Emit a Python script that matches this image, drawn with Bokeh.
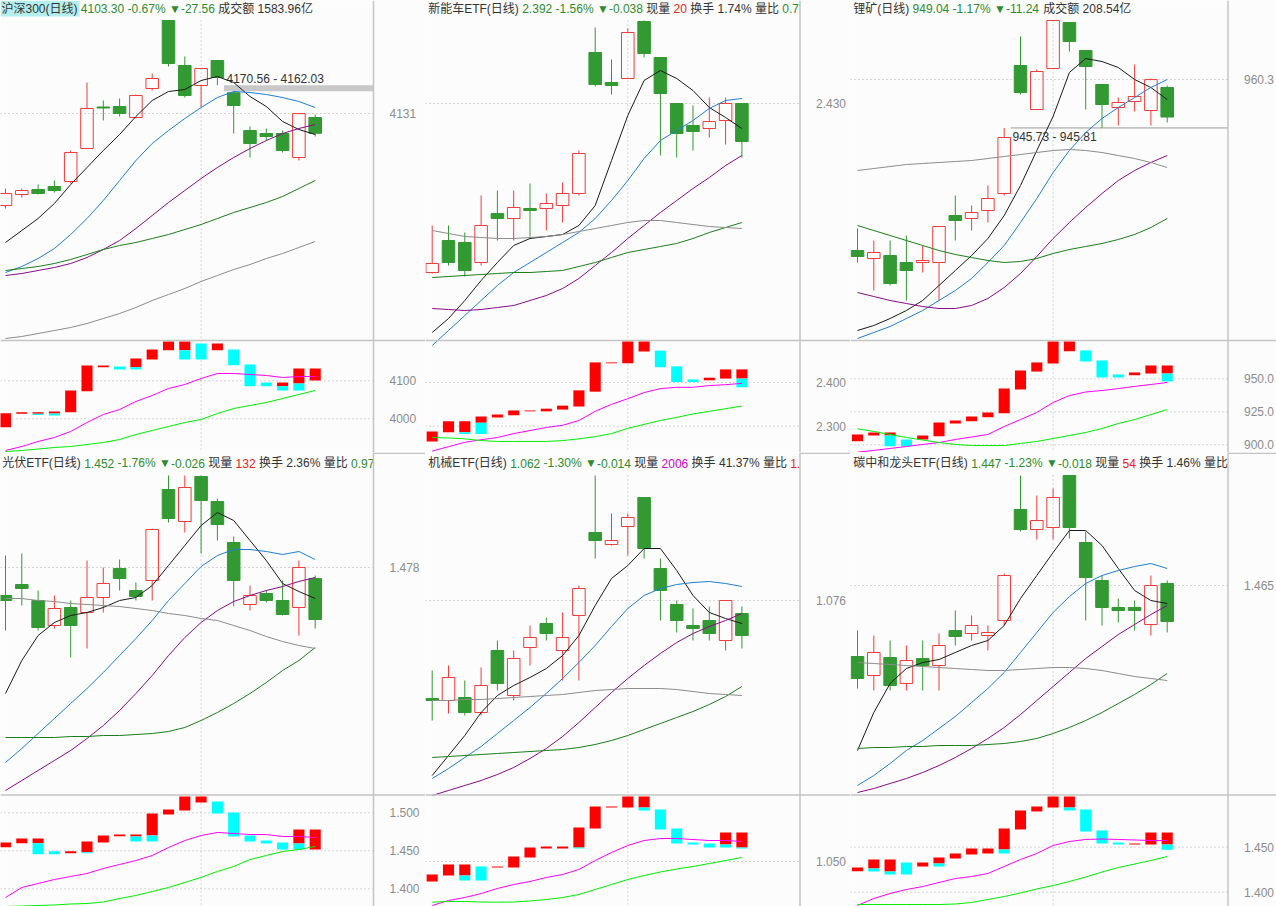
from bokeh.plotting import figure
from bokeh.models import Range1d
from bokeh.layouts import gridplot
from bokeh.embed import file_html
from bokeh.resources import INLINE
from bokeh.core.properties import value

# ---------------- data ----------------
# 沪深300
hs300_open = [4002.2, 4017.6, 4024.6, 4028.8, 4035.8, 4082.0, 4140.1, 4140.8, 4125.4, 4166.0, 4261.2, 4198.2, 4170.2, 4205.2, 4160.0, 4107.2, 4103.0, 4103.0, 4069.4, 4125.4]
hs300_high = [4026.0, 4026.0, 4031.6, 4037.2, 4079.2, 4174.4, 4149.2, 4152.0, 4157.6, 4187.0, 4261.2, 4210.8, 4194.0, 4205.2, 4162.03, 4112.8, 4110.0, 4107.2, 4131.5, 4129.6]
hs300_low = [3998.0, 4013.4, 4017.6, 4020.4, 4033.0, 4082.0, 4121.2, 4126.8, 4124.0, 4163.2, 4196.8, 4153.4, 4139.4, 4170.56, 4103.0, 4069.4, 4093.2, 4076.4, 4065.2, 4098.8]
hs300_close = [4019.0, 4023.2, 4019.0, 4023.2, 4076.4, 4138.0, 4138.7, 4131.0, 4156.2, 4180.0, 4201.0, 4156.2, 4194.0, 4181.4, 4142.2, 4089.0, 4098.8, 4079.2, 4130.86, 4103.30]
hs300_ma5 = [3950.4, 3967.2, 3984.0, 4005.0, 4031.6, 4055.4, 4079.2, 4101.6, 4126.8, 4149.2, 4161.8, 4164.6, 4177.2, 4182.8, 4174.4, 4154.8, 4140.8, 4119.8, 4108.6, 4101.6]
hs300_ma10 = [3908.4, 3916.8, 3928.0, 3942.0, 3961.6, 3984.0, 4009.2, 4037.2, 4065.2, 4089.0, 4107.2, 4124.0, 4139.4, 4153.4, 4161.8, 4160.4, 4157.6, 4153.4, 4147.8, 4139.4]
hs300_ma20 = [3904.2, 3907.0, 3911.2, 3915.4, 3921.0, 3929.4, 3940.6, 3953.2, 3970.0, 3988.2, 4006.4, 4023.2, 4040.0, 4055.4, 4069.4, 4082.0, 4093.2, 4103.0, 4110.0, 4115.6]
hs300_ma30 = [3911.2, 3914.0, 3916.8, 3921.0, 3926.6, 3933.6, 3940.6, 3946.2, 3950.4, 3956.0, 3961.6, 3968.6, 3975.6, 3984.0, 3992.4, 3999.4, 4006.4, 4014.8, 4026.0, 4037.2]
hs300_ma60 = [3816.0, 3818.8, 3823.0, 3827.2, 3831.4, 3837.0, 3844.0, 3851.0, 3859.4, 3869.2, 3877.6, 3886.0, 3895.8, 3904.2, 3912.6, 3919.6, 3928.0, 3935.0, 3943.4, 3951.8]
hs300_red_top = [4014.8, 4017.4, 4017.4, 4019.3, 4074.5, 4140.2, 4140.2, None, 4158.6, 4182.3, 4203.4, 4203.4, None, 4198.1, None, None, None, 4095.5, 4132.3, 4132.3]
hs300_red_bot = [3978.0, 4013.2, 4013.2, 4014.0, 4017.4, 4072.6, 4135.8, None, 4135.8, 4156.0, 4180.5, 4180.5, None, 4180.5, None, None, None, 4085.8, 4092.9, 4100.8]
hs300_cyan_top = [None, None, 4013.2, 4014.0, None, None, None, 4137.6, 4135.8, None, None, 4180.5, 4198.1, None, 4182.3, 4142.9, 4095.5, 4085.8, 4092.9, None]
hs300_cyan_bot = [None, None, 4010.0, 4008.7, None, None, None, 4129.7, 4129.7, None, None, 4156.0, 4156.0, None, 4141.0, 4085.8, 4085.8, 4074.5, 4074.5, None]
hs300_ind_m = [3916.7, 3927.2, 3940.4, 3950.9, 3966.7, 3990.3, 4011.4, 4024.5, 4045.6, 4061.3, 4079.7, 4090.3, 4106.0, 4119.2, 4119.2, 4116.6, 4113.9, 4108.7, 4111.3, 4111.3]
hs300_ind_g = [3914.1, 3916.7, 3920.6, 3924.6, 3927.2, 3932.5, 3937.7, 3945.6, 3958.8, 3969.3, 3979.8, 3990.3, 3998.2, 4014.0, 4027.1, 4035.0, 4042.9, 4053.4, 4064.0, 4074.5]

# 新能车ETF
xnc_open = [2.261, 2.293, 2.291, 2.271, 2.320, 2.315, 2.325, 2.325, 2.328, 2.340, 2.481, 2.451, 2.455, 2.512, 2.476, 2.430, 2.408, 2.405, 2.413, 2.430]
xnc_high = [2.308, 2.308, 2.301, 2.338, 2.343, 2.343, 2.350, 2.340, 2.351, 2.383, 2.506, 2.474, 2.505, 2.513, 2.476, 2.430, 2.428, 2.436, 2.436, 2.430]
xnc_low = [2.260, 2.268, 2.257, 2.268, 2.293, 2.293, 2.297, 2.303, 2.311, 2.338, 2.447, 2.439, 2.455, 2.476, 2.378, 2.376, 2.383, 2.396, 2.389, 2.376]
xnc_close = [2.270, 2.271, 2.263, 2.308, 2.315, 2.326, 2.323, 2.330, 2.340, 2.380, 2.449, 2.448, 2.501, 2.480, 2.440, 2.400, 2.402, 2.412, 2.430, 2.392]
xnc_ma5 = [2.201, 2.215, 2.233, 2.253, 2.271, 2.288, 2.295, 2.297, 2.299, 2.308, 2.328, 2.373, 2.418, 2.453, 2.463, 2.455, 2.443, 2.426, 2.416, 2.405]
xnc_ma10 = [2.188, 2.203, 2.218, 2.233, 2.248, 2.261, 2.271, 2.281, 2.291, 2.301, 2.315, 2.333, 2.353, 2.375, 2.393, 2.403, 2.413, 2.425, 2.433, 2.435]
xnc_ma20 = [2.225, 2.224, 2.223, 2.224, 2.226, 2.228, 2.233, 2.238, 2.245, 2.255, 2.268, 2.281, 2.295, 2.308, 2.321, 2.333, 2.345, 2.356, 2.368, 2.378]
xnc_ma30 = [2.256, 2.257, 2.258, 2.259, 2.260, 2.261, 2.261, 2.262, 2.263, 2.267, 2.271, 2.276, 2.281, 2.284, 2.287, 2.290, 2.295, 2.301, 2.306, 2.311]
xnc_ma60 = [2.303, 2.300, 2.297, 2.296, 2.295, 2.295, 2.296, 2.297, 2.299, 2.302, 2.305, 2.308, 2.311, 2.313, 2.313, 2.311, 2.309, 2.307, 2.306, 2.305]
xnc_red_top = [2.288, 2.311, 2.311, 2.322, 2.327, 2.336, 2.336, 2.340, 2.347, 2.382, 2.446, 2.446, 2.494, 2.494, None, None, None, 2.411, 2.430, 2.430]
xnc_red_bot = [2.265, 2.286, 2.286, 2.308, 2.320, 2.325, 2.334, 2.334, 2.338, 2.345, 2.379, 2.444, 2.444, 2.471, None, None, None, 2.405, 2.409, 2.409]
xnc_cyan_top = [None, None, 2.286, 2.308, None, None, None, None, None, None, None, None, None, None, 2.473, 2.437, 2.407, None, None, 2.409]
xnc_cyan_bot = [None, None, 2.282, 2.282, None, None, None, None, None, None, None, None, None, None, 2.435, 2.401, 2.401, None, None, 2.389]
xnc_ind_m = [2.243, 2.253, 2.263, 2.269, 2.274, 2.283, 2.290, 2.297, 2.302, 2.313, 2.334, 2.350, 2.363, 2.377, 2.386, 2.389, 2.389, 2.393, 2.395, 2.398]
xnc_ind_g = [2.274, 2.273, 2.271, 2.267, 2.265, 2.265, 2.265, 2.265, 2.267, 2.271, 2.276, 2.283, 2.295, 2.304, 2.313, 2.320, 2.328, 2.334, 2.340, 2.346]

# 锂矿
lk_open = [909.0, 906.6, 907.5, 905.4, 905.4, 905.4, 919.5, 918.6, 921.0, 926.1, 964.5, 951.3, 963.6, 977.4, 969.0, 958.8, 951.9, 953.7, 951.0, 957.9]
lk_high = [915.6, 912.0, 912.0, 913.5, 910.5, 916.2, 925.5, 922.5, 928.5, 945.73, 973.2, 963.3, 978.0, 977.4, 969.0, 958.8, 954.9, 964.8, 960.6, 958.5]
lk_low = [905.4, 897.0, 898.5, 894.0, 902.4, 894.0, 912.0, 915.0, 917.4, 925.5, 955.8, 951.3, 963.6, 968.7, 951.3, 945.81, 946.5, 950.7, 946.5, 947.4]
lk_close = [907.2, 908.4, 899.1, 903.0, 906.0, 916.2, 918.0, 920.4, 924.6, 942.9, 956.4, 962.7, 978.0, 971.7, 964.2, 952.8, 953.4, 955.2, 960.28, 949.04]
lk_ma5 = [885.0, 886.5, 888.6, 891.0, 894.0, 898.5, 903.0, 907.5, 912.6, 919.5, 928.5, 939.0, 949.2, 962.4, 966.6, 965.7, 963.9, 960.3, 957.9, 954.3]
lk_ma10 = [882.6, 884.4, 886.2, 888.6, 891.0, 894.0, 897.0, 900.6, 905.4, 910.5, 917.4, 924.6, 932.4, 939.0, 944.4, 948.6, 951.9, 954.9, 957.9, 960.3]
lk_ma20 = [896.4, 895.2, 894.0, 893.1, 892.2, 891.6, 891.6, 892.5, 894.6, 897.9, 902.1, 907.2, 912.6, 917.4, 921.9, 926.1, 930.0, 933.0, 935.4, 937.5]
lk_ma30 = [916.5, 915.0, 913.5, 912.0, 910.5, 909.0, 907.8, 906.9, 906.0, 905.4, 905.7, 906.6, 908.1, 909.3, 910.2, 911.1, 912.3, 913.8, 915.9, 918.6]
lk_ma60 = [933.0, 933.6, 934.2, 934.8, 935.1, 935.4, 935.7, 936.0, 936.6, 937.2, 937.8, 938.4, 939.0, 939.3, 939.0, 938.4, 937.5, 936.6, 935.4, 933.9]
lk_red_top = [907.8, 909.3, 909.3, None, 907.0, 916.9, 918.4, 921.4, 924.5, 942.6, 956.3, 962.4, 978.3, 978.3, None, None, None, 954.8, 960.1, 960.1]
lk_red_bot = [902.7, 907.0, 907.0, None, 904.0, 906.5, 916.1, 917.9, 920.9, 923.9, 941.9, 955.5, 961.6, 970.9, None, None, None, 952.7, 954.0, 954.0]
lk_cyan_top = [None, None, 907.0, 904.0, None, None, None, None, None, None, None, None, None, None, 971.5, 963.9, 953.3, None, None, 954.0]
lk_cyan_bot = [None, None, 898.9, 898.9, None, None, None, None, None, None, None, None, None, None, 963.1, 951.0, 951.0, None, None, 948.0]
lk_ind_m = [894.4, 895.7, 897.2, 898.7, 900.2, 901.7, 904.0, 905.9, 907.8, 913.8, 919.1, 924.5, 932.0, 937.3, 940.0, 941.1, 942.6, 944.2, 945.7, 947.2]
lk_ind_g = [912.1, 910.1, 907.8, 905.5, 903.6, 901.7, 900.2, 899.4, 899.4, 899.4, 901.0, 902.5, 904.7, 907.0, 909.3, 912.3, 916.1, 919.1, 922.9, 926.7]

# 光伏ETF
gf_open = [1.4640, 1.4695, 1.4615, 1.4490, 1.4580, 1.4555, 1.4630, 1.4775, 1.4665, 1.4715, 1.5170, 1.5010, 1.5235, 1.5110, 1.4905, 1.4595, 1.4650, 1.4615, 1.4580, 1.4725]
gf_high = [1.4840, 1.4850, 1.4665, 1.4640, 1.4615, 1.4815, 1.4780, 1.4820, 1.4705, 1.4975, 1.5240, 1.5240, 1.5240, 1.5125, 1.4935, 1.4690, 1.4665, 1.4715, 1.4815, 1.4740]
gf_low = [1.4465, 1.4590, 1.4465, 1.4475, 1.4330, 1.4375, 1.4555, 1.4665, 1.4615, 1.4615, 1.5005, 1.4955, 1.4850, 1.4915, 1.4585, 1.4565, 1.4605, 1.4540, 1.4440, 1.4475]
gf_close = [1.4615, 1.4675, 1.4480, 1.4575, 1.4490, 1.4630, 1.4700, 1.4725, 1.4635, 1.4970, 1.5025, 1.5180, 1.5115, 1.4995, 1.4715, 1.4640, 1.4615, 1.4545, 1.4780, 1.4520]
gf_ma5 = [1.4150, 1.4315, 1.4440, 1.4505, 1.4540, 1.4555, 1.4580, 1.4615, 1.4630, 1.4690, 1.4790, 1.4890, 1.4990, 1.5055, 1.5015, 1.4915, 1.4815, 1.4700, 1.4660, 1.4625]
gf_ma10 = [1.3805, 1.3875, 1.3950, 1.4025, 1.4100, 1.4175, 1.4255, 1.4340, 1.4425, 1.4515, 1.4615, 1.4700, 1.4785, 1.4840, 1.4870, 1.4870, 1.4860, 1.4845, 1.4860, 1.4820]
gf_ma20 = [1.3665, 1.3715, 1.3765, 1.3815, 1.3865, 1.3925, 1.3990, 1.4065, 1.4150, 1.4240, 1.4340, 1.4430, 1.4505, 1.4565, 1.4610, 1.4640, 1.4665, 1.4685, 1.4710, 1.4730]
gf_ma30 = [1.3930, 1.3930, 1.3930, 1.3930, 1.3935, 1.3935, 1.3940, 1.3940, 1.3945, 1.3950, 1.3960, 1.3980, 1.4015, 1.4055, 1.4100, 1.4150, 1.4205, 1.4265, 1.4315, 1.4380]
gf_ma60 = [1.4625, 1.4625, 1.4615, 1.4610, 1.4600, 1.4595, 1.4590, 1.4585, 1.4575, 1.4565, 1.4550, 1.4540, 1.4525, 1.4515, 1.4490, 1.4465, 1.4435, 1.4410, 1.4390, 1.4375]
gf_red_top = [1.4609, 1.4662, 1.4662, None, 1.4495, 1.4622, 1.4701, 1.4714, 1.4714, 1.4991, 1.5043, 1.5215, 1.5215, None, None, None, None, None, 1.4780, 1.4780]
gf_red_bot = [1.4547, 1.4600, 1.4600, None, 1.4468, 1.4481, 1.4609, 1.4692, 1.4688, 1.4701, 1.4978, 1.5030, 1.5136, None, None, None, None, None, 1.4596, 1.4517]
gf_cyan_top = [None, None, 1.4600, 1.4495, None, 1.4481, None, None, 1.4688, 1.4701, None, None, None, 1.5149, 1.5004, 1.4701, 1.4635, 1.4609, 1.4596, None]
gf_cyan_bot = [None, None, 1.4455, 1.4455, None, 1.4468, None, None, 1.4622, 1.4622, None, None, None, 1.4991, 1.4688, 1.4622, 1.4596, 1.4517, 1.4517, None]
gf_ind_m = [1.3885, 1.4017, 1.4070, 1.4122, 1.4162, 1.4201, 1.4267, 1.4320, 1.4372, 1.4438, 1.4543, 1.4635, 1.4701, 1.4741, 1.4728, 1.4714, 1.4714, 1.4688, 1.4688, 1.4675]
gf_ind_g = [1.3767, 1.3773, 1.3780, 1.3787, 1.3800, 1.3806, 1.3826, 1.3872, 1.3912, 1.3964, 1.4017, 1.4083, 1.4149, 1.4228, 1.4293, 1.4385, 1.4438, 1.4491, 1.4517, 1.4557]

# 机械ETF
jx_open = [1.0368, 1.0360, 1.0372, 1.0312, 1.0560, 1.0380, 1.0572, 1.0668, 1.0560, 1.0700, 1.1032, 1.0984, 1.1056, 1.1172, 1.0888, 1.0744, 1.0660, 1.0680, 1.0600, 1.0708]
jx_high = [1.0480, 1.0500, 1.0440, 1.0492, 1.0600, 1.0560, 1.0660, 1.0692, 1.0712, 1.0820, 1.1260, 1.1108, 1.1108, 1.1172, 1.0928, 1.0760, 1.0728, 1.0736, 1.0760, 1.0736]
jx_low = [1.0280, 1.0308, 1.0300, 1.0300, 1.0400, 1.0360, 1.0500, 1.0600, 1.0440, 1.0440, 1.0928, 1.0980, 1.0940, 1.0928, 1.0680, 1.0632, 1.0600, 1.0600, 1.0560, 1.0568]
jx_close = [1.0360, 1.0452, 1.0312, 1.0420, 1.0428, 1.0528, 1.0612, 1.0628, 1.0612, 1.0808, 1.1000, 1.1000, 1.1092, 1.0968, 1.0800, 1.0680, 1.0648, 1.0628, 1.0760, 1.0620]
jx_ma5 = [1.0060, 1.0140, 1.0220, 1.0312, 1.0380, 1.0420, 1.0452, 1.0488, 1.0540, 1.0620, 1.0740, 1.0848, 1.0900, 1.0968, 1.0968, 1.0880, 1.0780, 1.0712, 1.0688, 1.0668]
jx_ma10 = [1.0048, 1.0088, 1.0132, 1.0176, 1.0228, 1.0280, 1.0332, 1.0388, 1.0448, 1.0512, 1.0580, 1.0656, 1.0728, 1.0780, 1.0808, 1.0824, 1.0832, 1.0836, 1.0828, 1.0816]
jx_ma20 = [0.9980, 1.0000, 1.0020, 1.0040, 1.0064, 1.0092, 1.0128, 1.0168, 1.0216, 1.0272, 1.0332, 1.0392, 1.0448, 1.0500, 1.0548, 1.0592, 1.0628, 1.0656, 1.0680, 1.0708]
jx_ma30 = [1.0132, 1.0136, 1.0140, 1.0144, 1.0148, 1.0152, 1.0156, 1.0160, 1.0164, 1.0172, 1.0184, 1.0200, 1.0220, 1.0244, 1.0268, 1.0292, 1.0316, 1.0344, 1.0376, 1.0416]
jx_ma60 = [1.0360, 1.0360, 1.0364, 1.0364, 1.0368, 1.0372, 1.0376, 1.0380, 1.0384, 1.0392, 1.0400, 1.0404, 1.0408, 1.0408, 1.0408, 1.0404, 1.0396, 1.0388, 1.0384, 1.0380]
jx_red_top = [1.037, 1.047, 1.047, None, 1.045, 1.055, 1.064, 1.065, 1.065, 1.084, 1.105, 1.105, 1.115, 1.115, None, None, None, None, 1.079, 1.079]
jx_red_bot = [1.030, 1.036, 1.036, None, 1.044, 1.044, 1.054, 1.063, 1.063, 1.064, 1.083, 1.104, 1.104, 1.104, None, None, None, None, 1.067, 1.064]
jx_cyan_top = [None, None, 1.036, 1.045, None, None, None, None, None, 1.064, None, None, None, 1.104, 1.102, 1.083, 1.069, 1.068, 1.067, 1.064]
jx_cyan_bot = [None, None, 1.031, 1.031, None, None, None, None, None, 1.063, None, None, None, 1.101, 1.082, 1.068, 1.067, 1.064, 1.064, 1.063]
jx_ind_m = [1.006, 1.011, 1.014, 1.018, 1.023, 1.027, 1.030, 1.034, 1.037, 1.042, 1.051, 1.059, 1.066, 1.071, 1.073, 1.073, 1.072, 1.071, 1.071, 1.070]
jx_ind_g = [1.0093, 1.0100, 1.0100, 1.0095, 1.0093, 1.0095, 1.0105, 1.0120, 1.0140, 1.0170, 1.0220, 1.0270, 1.0320, 1.0360, 1.0395, 1.0425, 1.0450, 1.0480, 1.0510, 1.0540]

# 碳中和龙头ETF
tzh_open = [1.4295, 1.4200, 1.4290, 1.4160, 1.4285, 1.4250, 1.4425, 1.4410, 1.4400, 1.4475, 1.5030, 1.4930, 1.4940, 1.5200, 1.4865, 1.4675, 1.4540, 1.4540, 1.4455, 1.4660]
tzh_high = [1.4425, 1.4400, 1.4375, 1.4350, 1.4375, 1.4410, 1.4525, 1.4500, 1.4450, 1.4710, 1.5200, 1.5100, 1.5135, 1.5200, 1.4920, 1.4700, 1.4585, 1.4575, 1.4700, 1.4675]
tzh_low = [1.4135, 1.4125, 1.4125, 1.4125, 1.4125, 1.4125, 1.4350, 1.4375, 1.4325, 1.4450, 1.4920, 1.4880, 1.4880, 1.4885, 1.4475, 1.4450, 1.4465, 1.4425, 1.4400, 1.4415]
tzh_close = [1.4185, 1.4315, 1.4150, 1.4275, 1.4250, 1.4350, 1.4395, 1.4450, 1.4415, 1.4700, 1.4930, 1.4975, 1.5090, 1.4940, 1.4690, 1.4540, 1.4525, 1.4525, 1.4650, 1.4470]
tzh_ma5 = [1.3825, 1.4015, 1.4160, 1.4235, 1.4265, 1.4280, 1.4315, 1.4350, 1.4375, 1.4450, 1.4585, 1.4700, 1.4815, 1.4925, 1.4925, 1.4850, 1.4735, 1.4625, 1.4575, 1.4560]
tzh_ma10 = [1.3650, 1.3700, 1.3760, 1.3825, 1.3875, 1.3935, 1.3995, 1.4065, 1.4135, 1.4215, 1.4315, 1.4415, 1.4515, 1.4595, 1.4660, 1.4700, 1.4725, 1.4745, 1.4760, 1.4735]
tzh_ma20 = [1.3615, 1.3635, 1.3660, 1.3685, 1.3715, 1.3750, 1.3790, 1.3835, 1.3885, 1.3940, 1.4005, 1.4075, 1.4145, 1.4215, 1.4285, 1.4345, 1.4405, 1.4455, 1.4505, 1.4550]
tzh_ma30 = [1.3835, 1.3840, 1.3840, 1.3845, 1.3845, 1.3850, 1.3850, 1.3850, 1.3855, 1.3860, 1.3870, 1.3885, 1.3910, 1.3940, 1.3975, 1.4015, 1.4060, 1.4105, 1.4155, 1.4210]
tzh_ma60 = [1.4265, 1.4260, 1.4255, 1.4250, 1.4245, 1.4240, 1.4235, 1.4230, 1.4225, 1.4225, 1.4230, 1.4235, 1.4240, 1.4240, 1.4235, 1.4225, 1.4210, 1.4195, 1.4185, 1.4175]
tzh_red_top = [1.4274, 1.4363, 1.4363, None, 1.4330, 1.4386, 1.4430, 1.4486, 1.4486, 1.4708, 1.4908, 1.4952, 1.5063, 1.5063, None, None, None, 1.4541, 1.4663, 1.4663]
tzh_red_bot = [1.4233, 1.4263, 1.4230, None, 1.4286, 1.4319, 1.4374, 1.4419, 1.4430, 1.4474, 1.4697, 1.4897, 1.4941, 1.4941, None, None, None, 1.4530, 1.4530, 1.4530]
tzh_cyan_top = [None, 1.4263, 1.4230, 1.4330, None, 1.4319, None, None, None, 1.4474, None, None, None, 1.4941, 1.4919, 1.4686, 1.4552, None, None, 1.4530]
tzh_cyan_bot = [None, 1.4230, 1.4197, 1.4197, None, 1.4286, None, None, None, 1.4430, None, None, None, 1.4908, 1.4674, 1.4541, 1.4530, None, None, 1.4471]
tzh_ind_m = [1.3852, 1.3930, 1.3986, 1.4030, 1.4063, 1.4108, 1.4152, 1.4174, 1.4208, 1.4286, 1.4363, 1.4430, 1.4519, 1.4563, 1.4586, 1.4591, 1.4586, 1.4580, 1.4574, 1.4574]
tzh_ind_g = [1.3863, 1.3863, 1.3863, 1.3863, 1.3863, 1.3863, 1.3869, 1.3886, 1.3919, 1.3952, 1.3991, 1.4036, 1.4074, 1.4119, 1.4169, 1.4224, 1.4274, 1.4313, 1.4352, 1.4397]

# ---------------- styles ----------------
BG = "#fcfcfc"
UP = "#f03c3c"
DOWN = "#339933"
GRID_C = "#b0b0b0"
SEP_C = "#c4c4c4"
TICK_C = "#8c8c8c"
DARK = "#333333"
GRN = "#2e8b2e"
RED = "#ee2222"
MAG = "#cc00cc"
FONT = "Liberation Sans, Noto Sans CJK SC"
FS = 12
PITCH = 16.3
HW = 0.385
BW = 0.34
SEL = 12

PANELS = [
    dict(name="hs300", c0=5, W=425, H=452, edge=373, split=340, row=0,
         T=4131, yT=113, k=1.4, TL=4100, yTL=380.3, kl=2.63, main_label="4131",
         low_ticks=[4100, 4000], low_labels=["4100", "4000"], ctop=20, ty=8, tx0=1, hl=79,
         title=[("沪深300(日线)", DARK), ("4103.30", GRN), ("-0.67%", GRN), ("▼-27.56", GRN),
                ("成交额", DARK), ("1583.96亿", DARK)]),
    dict(name="xnc", c0=6.7, W=425, H=452, edge=374.5, split=340, row=0,
         T=2.430, yT=103, k=0.001, TL=2.400, yTL=382, kl=0.00229, main_label="2.430",
         low_ticks=[2.4, 2.3], low_labels=["2.400", "2.300"], ctop=20, ty=8, tx0=2.7, hl=None,
         title=[("新能车ETF(日线)", DARK), ("2.392", GRN), ("-1.56%", GRN), ("▼-0.038", GRN),
                ("现量", DARK), ("20", RED), ("换手", DARK), ("1.74%", DARK),
                ("量比", DARK), ("0.73", GRN)]),
    dict(name="lk", c0=7, W=426, H=452, edge=377.5, split=340, row=0,
         T=960.3, yT=79, k=0.3, TL=950, yTL=378.3, kl=0.758, main_label="960.3",
         low_ticks=[950, 925, 900], low_labels=["950.0", "925.0", "900.0"], ctop=20, ty=8, tx0=2.7, hl=None,
         title=[("锂矿(日线)", DARK), ("949.04", GRN), ("-1.17%", GRN), ("▼-11.24", GRN),
                ("成交额", DARK), ("208.54亿", DARK)]),
    dict(name="gf", c0=5, W=425, H=454, edge=373, split=342.5, row=1,
         T=1.478, yT=115, k=0.0005, TL=1.5, yTL=360.3, kl=0.001316, main_label="1.478",
         low_ticks=[1.5, 1.45, 1.4], low_labels=["1.500", "1.450", "1.400"], ctop=23, ty=10.5, tx0=1.7, hl=None,
         title=[("光伏ETF(日线)", DARK), ("1.452", GRN), ("-1.76%", GRN), ("▼-0.026", GRN),
                ("现量", DARK), ("132", RED), ("换手", DARK), ("2.36%", DARK),
                ("量比", DARK), ("0.97", GRN)]),
    dict(name="jx", c0=6.7, W=425, H=454, edge=374.5, split=342.5, row=1,
         T=1.076, yT=148, k=0.0004, TL=1.050, yTL=409, kl=0.001, main_label="1.076",
         low_ticks=[1.05], low_labels=["1.050"], ctop=23, ty=10.5, tx0=2.7, hl=None,
         title=[("机械ETF(日线)", DARK), ("1.062", GRN), ("-1.30%", GRN), ("▼-0.014", GRN),
                ("现量", DARK), ("2006", MAG), ("换手", DARK), ("41.37%", DARK),
                ("量比", DARK), ("1.", RED)]),
    dict(name="tzh", c0=7, W=426, H=454, edge=377.5, split=342.5, row=1,
         T=1.465, yT=133, k=0.0005, TL=1.45, yTL=394.7, kl=0.001111, main_label="1.465",
         low_ticks=[1.45, 1.4], low_labels=["1.450", "1.400"], ctop=23, ty=10.5, tx0=2.7, hl=None,
         title=[("碳中和龙头ETF(日线)", DARK), ("1.447", GRN), ("-1.23%", GRN), ("▼-0.018", GRN),
                ("现量", DARK), ("54", RED), ("换手", DARK), ("1.46%", DARK),
                ("量比", DARK)]),
]

DATA = {
    "hs300": dict(o=hs300_open, h=hs300_high, l=hs300_low, c=hs300_close,
                  ma=[hs300_ma5, hs300_ma10, hs300_ma20, hs300_ma30, hs300_ma60],
                  rt=hs300_red_top, rb=hs300_red_bot, ct=hs300_cyan_top, cb=hs300_cyan_bot,
                  im=hs300_ind_m, ig=hs300_ind_g),
    "xnc": dict(o=xnc_open, h=xnc_high, l=xnc_low, c=xnc_close,
                ma=[xnc_ma5, xnc_ma10, xnc_ma20, xnc_ma30, xnc_ma60],
                rt=xnc_red_top, rb=xnc_red_bot, ct=xnc_cyan_top, cb=xnc_cyan_bot,
                im=xnc_ind_m, ig=xnc_ind_g),
    "lk": dict(o=lk_open, h=lk_high, l=lk_low, c=lk_close,
               ma=[lk_ma5, lk_ma10, lk_ma20, lk_ma30, lk_ma60],
               rt=lk_red_top, rb=lk_red_bot, ct=lk_cyan_top, cb=lk_cyan_bot,
               im=lk_ind_m, ig=lk_ind_g),
    "gf": dict(o=gf_open, h=gf_high, l=gf_low, c=gf_close,
               ma=[gf_ma5, gf_ma10, gf_ma20, gf_ma30, gf_ma60],
               rt=gf_red_top, rb=gf_red_bot, ct=gf_cyan_top, cb=gf_cyan_bot,
               im=gf_ind_m, ig=gf_ind_g),
    "jx": dict(o=jx_open, h=jx_high, l=jx_low, c=jx_close,
               ma=[jx_ma5, jx_ma10, jx_ma20, jx_ma30, jx_ma60],
               rt=jx_red_top, rb=jx_red_bot, ct=jx_cyan_top, cb=jx_cyan_bot,
               im=jx_ind_m, ig=jx_ind_g),
    "tzh": dict(o=tzh_open, h=tzh_high, l=tzh_low, c=tzh_close,
                ma=[tzh_ma5, tzh_ma10, tzh_ma20, tzh_ma30, tzh_ma60],
                rt=tzh_red_top, rb=tzh_red_bot, ct=tzh_cyan_top, cb=tzh_cyan_bot,
                im=tzh_ind_m, ig=tzh_ind_g),
}

MA_COLORS = ["#1a1a1a", "#1f7fd6", "#8a0a8a", "#1a7f1a", "#8c8c8c"]
GAPS = {
    "hs300": dict(kind="bar", i=13, top=("l", 13), bot=("h", 14), text="4170.56 - 4162.03", tx=226, ty=78),
    "lk": dict(kind="line", i=9, top=("h", 9), bot=("l", 15), text="945.73 - 945.81", tx=162, ty=136),
}

# Arial / Liberation Sans advance widths (em)
CW = {".": 0.278, "-": 0.333, "%": 0.889, "(": 0.333, ")": 0.333, "E": 0.667, "T": 0.611, "F": 0.611, " ": 0.278}


def text_width(s):
    w = 0.0
    for ch in s:
        if ord(ch) > 0x2000:
            w += 1.0
        else:
            w += CW.get(ch, 0.556)
    return w * FS


def layout_title(segs, x0):
    out = []
    x = x0
    sp = CW[" "] * FS
    for txt, col in segs:
        if txt.startswith("▼"):
            out.append((x + FS / 2, "▼", col, "center"))
            x += FS
            txt = txt[1:]
        out.append((x, txt, col, "left"))
        x += text_width(txt) + sp
    return out


def make_panel(cfg):
    d = DATA[cfg["name"]]
    W, H, edge = cfg["W"], cfg["H"], cfg["edge"]
    xs = -cfg["c0"] / PITCH
    xe = xs + W / PITCH
    T, yT, k = cfg["T"], cfg["yT"], cfg["k"]
    TL, yTL, kl = cfg["TL"], cfg["yTL"], cfg["kl"]

    def X(u):
        return xs + u / PITCH

    def Y(v):
        return T + (yT - v) * k

    p = figure(width=W, height=H, x_range=Range1d(xs, xe),
               y_range=Range1d(Y(H), Y(0)), output_backend="svg", toolbar_location=None,
               x_axis_location=None, y_axis_location=None, min_border=0)
    p.extra_y_ranges = {"low": Range1d(TL - (H - yTL) * kl, TL + yTL * kl)}
    p.outline_line_color = None
    p.background_fill_color = BG
    p.border_fill_color = BG
    p.xgrid.visible = False
    p.ygrid.visible = False

    if cfg["hl"]:
        p.quad(left=[X(0)], right=[X(cfg["hl"])], top=[Y(0)], bottom=[Y(16)],
               fill_color="#b4eeee", line_color=None)

    # dotted grid + selection line
    p.segment(x0=[X(0)], x1=[X(edge)], y0=[T], y1=[T], line_color=GRID_C, line_dash="1 3")
    lt = cfg["low_ticks"]
    p.segment(x0=[X(0)] * len(lt), x1=[X(edge)] * len(lt), y0=lt, y1=lt,
              line_color=GRID_C, line_dash="1 3", y_range_name="low")
    p.segment(x0=[SEL], x1=[SEL], y0=[Y(cfg["ctop"])], y1=[Y(H)], line_color=GRID_C, line_dash="1 3")

    o, h, l, c = d["o"], d["h"], d["l"], d["c"]
    idx = list(range(len(o)))

    g = GAPS.get(cfg["name"])
    if g:
        gt = d[g["top"][0]][g["top"][1]]
        gb = d[g["bot"][0]][g["bot"][1]]
        if g["kind"] == "bar":
            p.quad(left=[g["i"] + 0.4], right=[X(edge)], top=[gt], bottom=[gb],
                   fill_color="#c8c8c8", line_color=None)
        else:
            mid = (gt + gb) / 2
            p.segment(x0=[g["i"] + 0.4], x1=[X(edge)], y0=[mid], y1=[mid], line_color="#9a9a9a", line_width=1)
        p.text(x=[X(g["tx"])], y=[Y(g["ty"])], text=[g["text"]], text_font=value(FONT),
               text_font_size="12px", text_color=DARK, text_baseline="middle")

    # candles
    up = [i for i in idx if c[i] >= o[i]]
    dn = [i for i in idx if c[i] < o[i]]
    p.segment(x0=dn, x1=dn, y0=[h[i] for i in dn], y1=[l[i] for i in dn], line_color=DOWN)
    p.quad(left=[i - HW for i in dn], right=[i + HW for i in dn],
           top=[o[i] for i in dn], bottom=[c[i] for i in dn], fill_color=DOWN, line_color=DOWN)
    p.segment(x0=up, x1=up, y0=[h[i] for i in up], y1=[c[i] for i in up], line_color=UP)
    p.segment(x0=up, x1=up, y0=[o[i] for i in up], y1=[l[i] for i in up], line_color=UP)
    p.quad(left=[i - HW for i in up], right=[i + HW for i in up],
           top=[c[i] for i in up], bottom=[o[i] for i in up], fill_color=None, line_color=UP)

    for series, col in zip(d["ma"], MA_COLORS):
        p.line(idx, series, line_color=col, line_width=1)

    # lower indicator pane
    for tops, bots, col in ((d["rt"], d["rb"], "#ff0000"), (d["ct"], d["cb"], "#00ffff")):
        sel = [i for i in idx if tops[i] is not None]
        p.quad(left=[i - BW for i in sel], right=[i + BW for i in sel],
               top=[tops[i] for i in sel], bottom=[bots[i] for i in sel],
               fill_color=col, line_color=None, y_range_name="low")
    p.line(idx, d["im"], line_color="#ff00ff", line_width=1, y_range_name="low")
    p.line(idx, d["ig"], line_color="#00ee00", line_width=1, y_range_name="low")

    # title line
    items = layout_title(cfg["title"], cfg["tx0"])
    for align in ("left", "center"):
        its = [t for t in items if t[3] == align]
        if its:
            p.text(x=[X(t[0]) for t in its], y=[Y(cfg["ty"])] * len(its), text=[t[1] for t in its],
                   text_color=[t[2] for t in its], text_font=value(FONT), text_font_size="12px",
                   text_baseline="middle", text_align=align)
    p.quad(left=[X(edge)], right=[X(W)], top=[Y(0)], bottom=[Y(20)], fill_color=BG, line_color=None)

    # separators
    p.segment(x0=[X(0)], x1=[X(W)], y0=[Y(cfg["split"])], y1=[Y(cfg["split"])], line_color=SEP_C, line_width=1.5)
    p.segment(x0=[X(edge)], x1=[X(edge)], y0=[Y(0)], y1=[Y(H)], line_color=SEP_C, line_width=1.5)
    if cfg["row"] == 1:
        p.segment(x0=[X(edge)], x1=[X(W)], y0=[Y(0.75)], y1=[Y(0.75)], line_color=SEP_C, line_width=1.5)

    # scale labels
    p.text(x=[X(edge + 16)], y=[T], text=[cfg["main_label"]], text_font=value("Liberation Sans"),
           text_font_size="12px", text_color=TICK_C, text_baseline="middle")
    p.text(x=[X(edge + 16)] * len(lt), y=lt, text=cfg["low_labels"], text_font=value("Liberation Sans"),
           text_font_size="12px", text_color=TICK_C, text_baseline="middle", y_range_name="low")
    return p


figs = [make_panel(cfg) for cfg in PANELS]
grid = gridplot([figs[0:3], figs[3:6]], toolbar_location=None)
open("out.html", "w").write(file_html(grid, INLINE, title="K线"))
